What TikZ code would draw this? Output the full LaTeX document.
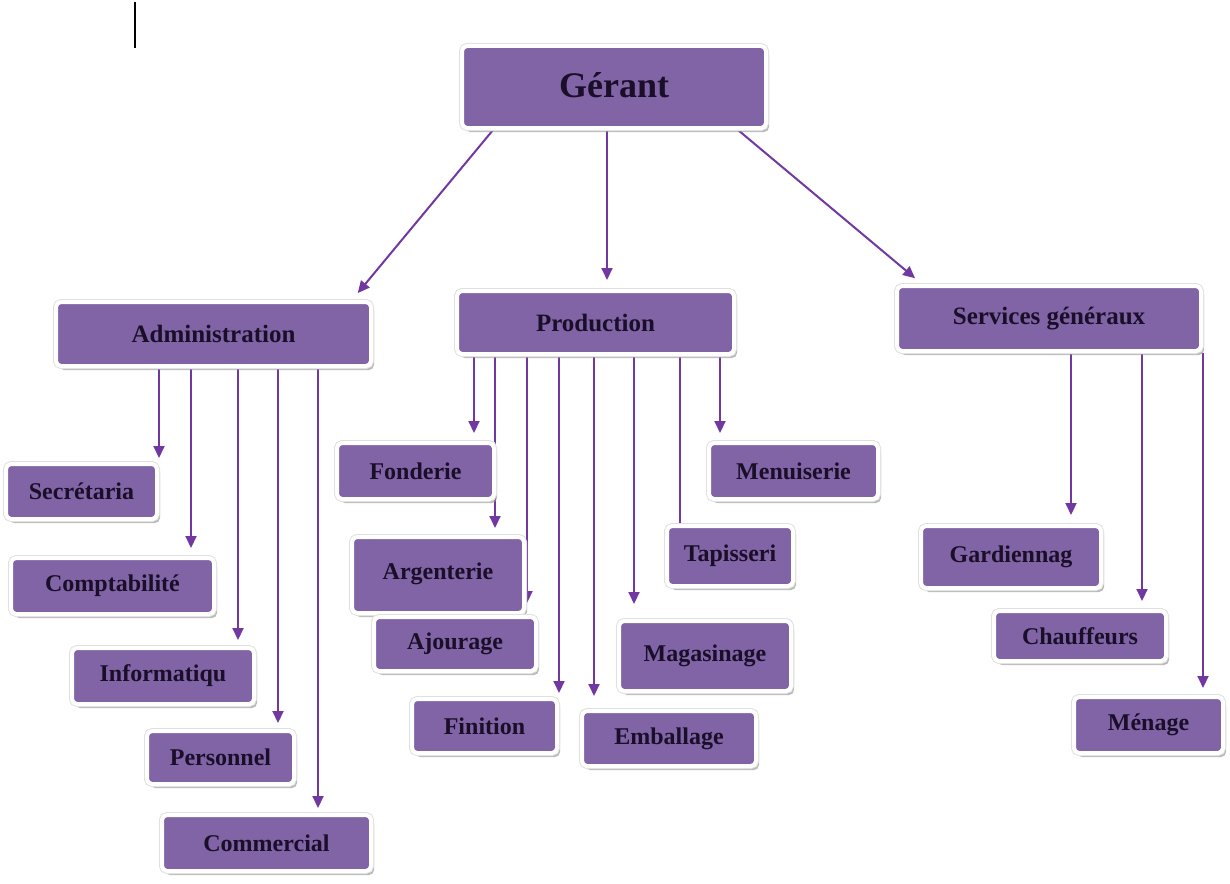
\documentclass[tikz,border=0pt]{standalone}
\usepackage{fontspec}
\setmainfont{Liberation Serif}
\usetikzlibrary{arrows.meta,shadows,backgrounds}

\definecolor{boxfill}{RGB}{128,100,166}
\definecolor{linecol}{RGB}{114,56,162}
\definecolor{txtcol}{RGB}{26,14,40}

\tikzset{
 box/.style={fill=boxfill, draw=white, line width=4pt, rounded corners=5pt, inner sep=0pt,
   text=txtcol, font=\bfseries\fontsize{24}{28}\selectfont,
   drop shadow={shadow xshift=3pt, shadow yshift=-4pt, fill=black!45, opacity=0.6},
   preaction={draw=black!12, line width=6pt}},
 topbox/.style={box, font=\bfseries\fontsize{25}{30}\selectfont},
 conn/.style={draw=linecol, line width=2pt},
 arr/.style={conn, -{Triangle[length=12pt,width=11pt]}},
}

\begin{document}
\begin{tikzpicture}[x=1pt,y=-1pt]
\useasboundingbox (0,0) rectangle (1230,883);

% cursor mark
\draw[line width=2pt, black] (135,2) -- (135,48);

% level 0
\node[box, minimum width=304pt, minimum height=82pt, font=\bfseries\fontsize{36}{40}\selectfont] (ger) at (614,87) {\raisebox{4pt}{Gérant}};

% level 1
\node[topbox, minimum width=315pt, minimum height=64pt] (adm) at (213.5,334) {Administration};
\node[topbox, minimum width=277pt, minimum height=63pt] (prod) at (595.5,322.5) {Production};
\node[topbox, minimum width=304pt, minimum height=65pt] (serv) at (1049,318.5) {Services généraux};

% Administration children
\node[box, minimum width=151pt, minimum height=55pt] (sec) at (81.5,491.5) {Secrétaria};
\node[box, minimum width=203pt, minimum height=56pt] (comp) at (112.5,586) {Comptabilité};
\node[box, minimum width=182pt, minimum height=56pt] (info) at (163,676) {Informatiqu};
\node[box, minimum width=147pt, minimum height=53pt] (pers) at (220.5,757.5) {Personnel};
\node[box, minimum width=209pt, minimum height=56pt] (comm) at (266.5,843) {Commercial};

% Production children
\node[box, minimum width=157pt, minimum height=56pt] (fond) at (415.5,471) {Fonderie};
\node[box, minimum width=172pt, minimum height=76pt] (arg) at (438,575) {\raisebox{8pt}{Argenterie}};
\node[box, minimum width=162pt, minimum height=54pt] (ajo) at (455,644) {Ajourage};
\node[box, minimum width=145pt, minimum height=54pt] (fini) at (484.5,726) {Finition};
\node[box, minimum width=174pt, minimum height=55pt] (emb) at (669,738.5) {Emballage};
\node[box, minimum width=172pt, minimum height=70pt] (mag) at (705,656) {Magasinage};
\node[box, minimum width=126pt, minimum height=60pt] (tap) at (730,556) {Tapisseri};
\node[box, minimum width=169pt, minimum height=56pt] (menu) at (793.5,471) {Menuiserie};

% Services children
\node[box, minimum width=180pt, minimum height=62pt] (gard) at (1011,557) {Gardiennag};
\node[box, minimum width=172pt, minimum height=50pt] (chau) at (1080,636) {Chauffeurs};
\node[box, minimum width=149pt, minimum height=56pt] (men) at (1148.5,725) {Ménage};

\begin{scope}[on background layer]
% from Gérant
\draw[arr, shorten >=9pt] (ger.south -| 493,0) -- (adm.north -| 352,0);
\draw[arr, shorten >=9pt] (ger.south -| 607,0) -- (prod.north -| 607,0);
\draw[arr, shorten >=9pt] (ger.south -| 738,0) -- (serv.north -| 922,0);

% Administration
\draw[arr, shorten >=4pt] (adm.south -| 159,0) -- (sec.north -| 159,0);
\draw[arr, shorten >=8pt] (adm.south -| 191,0) -- (comp.north -| 191,0);
\draw[arr, shorten >=6pt] (adm.south -| 238,0) -- (info.north -| 238,0);
\draw[arr, shorten >=6pt] (adm.south -| 278,0) -- (pers.north -| 278,0);
\draw[arr, shorten >=5pt] (adm.south -| 318,0) -- (comm.north -| 318,0);

% Production
\draw[arr, shorten >=8pt] (prod.south -| 474,0) -- (fond.north -| 474,0);
\draw[arr, shorten >=7pt] (prod.south -| 495,0) -- (arg.north -| 495,0);
\draw[arr, shorten >=12pt] (prod.south -| 527,0) -- (ajo.north -| 527,0);
\draw[arr, shorten >=4pt] (prod.south -| 559,0) -- (fini.north -| 559,0);
\draw[arr, shorten >=13pt] (prod.south -| 594,0) -- (emb.north -| 594,0);
\draw[arr, shorten >=15pt] (prod.south -| 634,0) -- (mag.north -| 634,0);
\draw[conn] (prod.south -| 680,0) -- (tap.north -| 680,0);
\draw[arr, shorten >=8pt] (prod.south -| 720,0) -- (menu.north -| 720,0);

% Services
\draw[arr, shorten >=9pt] (serv.south -| 1071,0) -- (gard.north -| 1071,0);
\draw[arr, shorten >=8pt] (serv.south -| 1142,0) -- (chau.north -| 1142,0);
\draw[arr, shorten >=7pt] (serv.south -| 1203,0) -- (men.north -| 1203,0);
\end{scope}
\end{tikzpicture}
\end{document}
